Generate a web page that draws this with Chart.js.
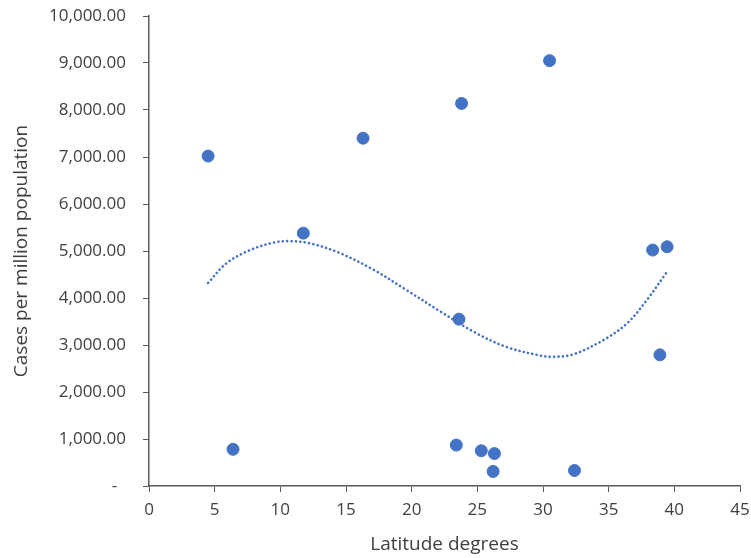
<!DOCTYPE html>
<html lang="en">
<head>
   <meta charset="UTF-8">
   <title>Cases vs latitude</title>
   <style>
      body { margin: 0; background: #ffffff; }
      #wrap { width: 751px; height: 558px; }
   </style>
</head>
<body>
   <div id="wrap"><canvas id="myChart"></canvas></div>

   <script src="https://cdn.jsdelivr.net/npm/chart.js"></script>
   <script>
      // observed points
      const latitude = [4.5, 6.4, 11.75, 16.3, 23.8, 23.6, 23.4, 25.3, 26.3, 26.2, 30.5, 32.4, 38.35, 39.45, 38.9];
      const cases = [7020, 780, 5380, 7400, 8140, 3550, 870, 750, 690, 310, 9050, 330, 5020, 5090, 2790];

      // polynomial trendline
      const trendX = [4.5, 5.9, 7.7, 9.5, 10.7, 12.3, 14.5, 17.1, 19.6, 22.2, 24.8, 27.2, 29.8, 30.8, 32.3, 34.6, 36.4, 37.9, 39.4];
      const trendY = [4320, 4740, 5020, 5180, 5210, 5160, 4960, 4600, 4170, 3710, 3270, 2960, 2775, 2750, 2800, 3105, 3460, 3955, 4540];

      const yTicks = [0, 1000, 2000, 3000, 4000, 5000, 6000, 7000, 8000, 9000, 10000];

      const blue = '#4472C4';
      const grey = '#595959';
      const text = '#404040';
      const font = { family: 'Open Sans', size: 17 };
      const titleFont = { family: 'Open Sans', size: 19 };

      const ctx = document.getElementById('myChart').getContext('2d');

      new Chart(ctx, {
         type: 'scatter',
         data: {
            datasets: [{
               label: 'Cases',
               data: latitude.map((x, i) => ({ x: x, y: cases[i] })),
               backgroundColor: blue,
               borderColor: blue,
               pointRadius: 6,
               pointHoverRadius: 6
            }, {
               label: 'Trend',
               data: trendX.map((x, i) => ({ x: x, y: trendY[i] })),
               showLine: true,
               borderColor: blue,
               borderWidth: 2.6,
               borderDash: [0.1, 4.3],
               borderCapStyle: 'round',
               pointRadius: 0,
               tension: 0.35,
               fill: false
            }]
         },
         options: {
            responsive: true,
            maintainAspectRatio: false,
            animation: false,
            layout: { padding: { top: 16, right: 11, left: 0, bottom: 0 } },
            scales: {
               x: {
                  type: 'linear',
                  min: 0,
                  max: 45,
                  ticks: { stepSize: 5, color: text, font: font, padding: 8 },
                  grid: { drawOnChartArea: false, tickLength: 6, tickColor: grey },
                  border: { color: grey, width: 1.5 },
                  title: { display: true, text: 'Latitude degrees', color: text, font: titleFont, padding: { top: 4, bottom: 2 } },
                  afterFit: s => { s.height = 72; s.paddingLeft = 0; s.paddingRight = 0; }
               },
               y: {
                  min: 0,
                  max: 10000,
                  afterBuildTicks: s => { s.ticks = yTicks.map(v => ({ value: v })); },
                  ticks: {
                     color: text,
                     font: font,
                     padding: 17,
                     callback: v => v === 0 ? '-  ' : v.toLocaleString('en-US', { minimumFractionDigits: 2, maximumFractionDigits: 2 })
                  },
                  grid: { drawOnChartArea: false, tickLength: 6, tickColor: grey },
                  border: { color: grey, width: 1.5 },
                  title: { display: true, text: 'Cases per million population', color: text, font: titleFont, padding: { top: 10, bottom: 0 } },
                  afterFit: s => { s.width = 149; s.paddingTop = 0; s.paddingBottom = 0; }
               }
            },
            plugins: {
               legend: { display: false },
               tooltip: { enabled: false }
            }
         }
      });
   </script>
</body>
</html>
